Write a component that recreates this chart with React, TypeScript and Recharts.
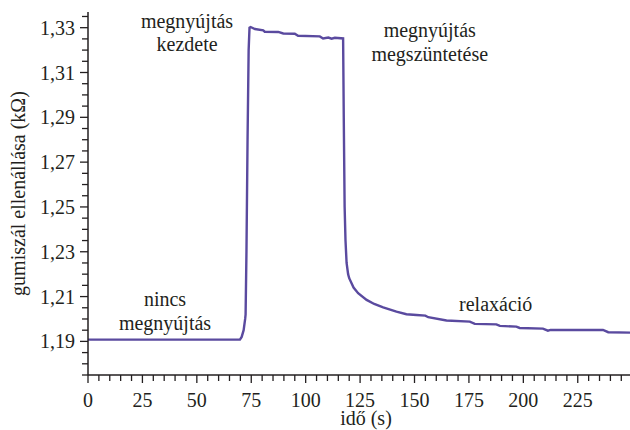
import { LineChart, Line, XAxis, YAxis, ReferenceDot } from 'recharts';

const FONT = "'Liberation Serif', 'Times New Roman', serif";
const INK = '#231f20';
const TRACE = '#5a4a9f';

// idő (s)
const TIME = [
  0, 20, 40, 60, 69.8, 70.6, 71.5, 72.2, 72.4, 72.8, 73.3, 73.8, 74.2, 74.7,
  76.7, 80.5, 81.2, 87.4, 89.7, 95, 96.5, 106.5, 108, 110.4, 111.9, 113.4,
  117.2, 117.5, 117.9, 118.3, 118.8, 119.5, 120, 122, 124.1, 128, 131.5,
  135.6, 141.7, 146.3, 150.9, 155, 156.3, 164.7, 175.4, 177.7, 187.6, 189.2,
  196.8, 198.3, 209, 211.3, 212.5, 236.6, 239, 249,
];

// gumiszál ellenállása (kΩ)
const RESISTANCE = [
  1.1908, 1.1908, 1.1908, 1.1908, 1.1908, 1.192, 1.195, 1.2, 1.202, 1.23,
  1.28, 1.32, 1.33, 1.3303, 1.3294, 1.3288, 1.3282, 1.3281, 1.3274, 1.3273,
  1.3264, 1.3261, 1.3252, 1.3256, 1.3251, 1.3255, 1.3252, 1.29, 1.25, 1.235,
  1.225, 1.22, 1.2182, 1.214, 1.2115, 1.2085, 1.2067, 1.2052, 1.2033, 1.2021,
  1.2018, 1.2015, 1.2008, 1.1993, 1.1988, 1.1978, 1.1976, 1.1969, 1.1966,
  1.196, 1.1957, 1.1948, 1.1951, 1.1951, 1.1941, 1.1939,
];

const X_LABELS = [0, 25, 50, 75, 100, 125, 150, 175, 200, 225];
const Y_LABELS = [1.19, 1.21, 1.23, 1.25, 1.27, 1.29, 1.31, 1.33];

// minor ticks every 5 s and every 0.005 kΩ
const X_TICKS = Array.from({ length: 50 }, (_, i) => i * 5);
const Y_TICKS = Array.from({ length: 33 }, (_, i) => +(1.175 + i * 0.005).toFixed(3));

const NOTES = [
  { t: 45.5, r: 1.33, lines: ['megnyújtás', 'kezdete'] },
  { t: 157, r: 1.3258, lines: ['megnyújtás', 'megszüntetése'] },
  { t: 35.4, r: 1.2056, lines: ['nincs', 'megnyújtás'] },
  { t: 187.3, r: 1.2036, lines: ['relaxáció'] },
];

const data = TIME.map((t, i) => ({ t, r: RESISTANCE[i] }));

// all chart text shares one serif face
const CSS = `
#root .plot svg text.serif, #root .plot svg text.serif tspan {
  font-family: ${FONT} !important;
  font-size: 20px !important;
  fill: ${INK} !important;
}`;

function XTick({ x, y, payload }: any) {
  const major = X_LABELS.includes(payload.value);
  return (
    <g>
      <line x1={x} x2={x} y1={y} y2={y + (major ? 8 : 6)} stroke={INK} strokeWidth={1.3} />
      {major && (
        <text className="serif" x={x} y={y + 32} textAnchor="middle">
          {payload.value}
        </text>
      )}
    </g>
  );
}

function YTick({ x, y, payload }: any) {
  const major = Y_LABELS.some((m) => Math.abs(m - payload.value) < 1e-6);
  return (
    <g>
      <line x1={x - (major ? 8 : 6)} x2={x} y1={y} y2={y} stroke={INK} strokeWidth={1.3} />
      {major && (
        <text className="serif" x={x - 13} y={y} dy="0.35em" textAnchor="end">
          {payload.value.toFixed(2).replace('.', ',')}
        </text>
      )}
    </g>
  );
}

function Note({ cx, cy, lines }: any) {
  return (
    <text className="serif" x={cx} y={cy} textAnchor="middle">
      {lines.map((l: string, i: number) => (
        <tspan key={i} x={cx} dy={i ? 23.5 : 0}>
          {l}
        </tspan>
      ))}
    </text>
  );
}

export default function App() {
  return (
    <div
      className="plot"
      style={{ position: 'absolute', left: 0, top: 0, background: '#fff' }}
    >
      <style>{CSS}</style>
      <LineChart
        width={630}
        height={430}
        data={data}
        margin={{ top: 12, right: 0, bottom: 0, left: 0 }}
      >
        <XAxis
          dataKey="t"
          type="number"
          domain={[0, 249]}
          ticks={X_TICKS}
          interval={0}
          height={55}
          tickSize={0}
          tickMargin={0}
          tick={<XTick />}
          axisLine={{ stroke: INK, strokeWidth: 1.5 }}
          allowDataOverflow
          label={{
            content: ({ viewBox }: any) => (
              <text
                className="serif"
                x={viewBox.x + viewBox.width / 2 + 7}
                y={425}
                textAnchor="middle"
              >
                idő (s)
              </text>
            ),
          }}
        />
        <YAxis
          type="number"
          domain={[1.175, 1.337]}
          ticks={Y_TICKS}
          interval={0}
          width={88}
          tickSize={0}
          tickMargin={0}
          tick={<YTick />}
          axisLine={{ stroke: INK, strokeWidth: 1.5 }}
          allowDataOverflow
          label={{
            content: ({ viewBox }: any) => (
              <text
                className="serif"
                transform={`translate(${viewBox.x + 25},${viewBox.y + viewBox.height / 2}) rotate(-90)`}
                textAnchor="middle"
              >
                gumiszál ellenállása (kΩ)
              </text>
            ),
          }}
        />
        <Line
          type="linear"
          dataKey="r"
          stroke={TRACE}
          strokeWidth={2.4}
          dot={false}
          isAnimationActive={false}
        />
        {NOTES.map((n, i) => (
          <ReferenceDot
            key={i}
            x={n.t}
            y={n.r}
            r={0}
            ifOverflow="visible"
            shape={(p: any) => <Note cx={p.cx} cy={p.cy} lines={n.lines} />}
          />
        ))}
      </LineChart>
    </div>
  );
}
